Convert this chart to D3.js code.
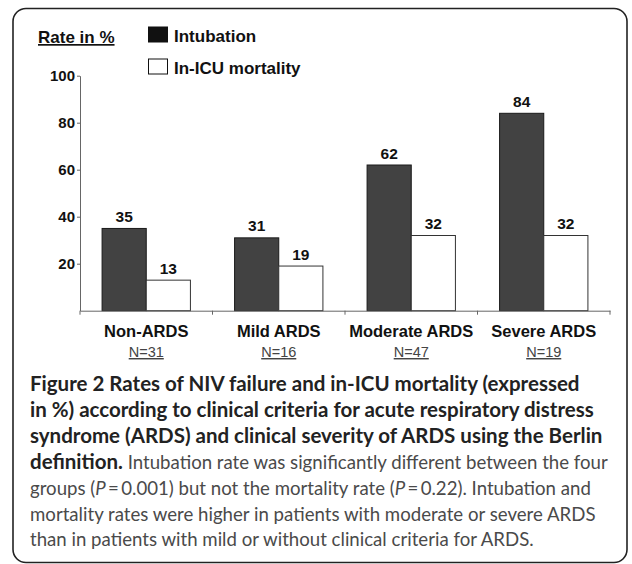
<!DOCTYPE html>
<html>
<head>
<meta charset="utf-8">
<script src="https://cdn.jsdelivr.net/npm/d3@7"></script>
<style>
  html, body { margin: 0; padding: 0; background: #fff; }
  svg { display: block; }
</style>
</head>
<body>
<svg id="chart" width="632" height="564"></svg>
<script>
// Groups, their sizes and the two rates (%) per group
const categories = ["Non-ARDS", "Mild ARDS", "Moderate ARDS", "Severe ARDS"];
const groupSizes = ["N=31", "N=16", "N=47", "N=19"];
const intubation = [35, 31, 62, 84];
const mortality = [13, 19, 32, 32];
const seriesNames = ["Intubation", "In-ICU mortality"];
const yTicks = [20, 40, 60, 80, 100];

// Caption lines: each is a list of [text, style] runs
const captionLines = [
  [["Figure 2 Rates of NIV failure and in-ICU mortality (expressed", "b"]],
  [["in %) according to clinical criteria for acute respiratory distress", "b"]],
  [["syndrome (ARDS) and clinical severity of ARDS using the Berlin", "b"]],
  [["definition.", "b"], [" Intubation rate was significantly different between the four", "r"]],
  [["groups (", "r"], ["P", "i"], ["\u2009=\u20090.001) but not the mortality rate (", "r"], ["P", "i"], ["\u2009=\u20090.22). Intubation and", "r"]],
  [["mortality rates were higher in patients with moderate or severe ARDS", "r"]],
  [["than in patients with mild or without clinical criteria for ARDS.", "r"]]
];

const svg = d3.select("#chart");
const chartFont = "'Liberation Sans', Arial, sans-serif";
const capFont = "Lato, 'Open Sans', sans-serif";

// Rounded frame
svg.append("rect")
  .attr("x", 13).attr("y", 8.5)
  .attr("width", 614).attr("height", 554)
  .attr("rx", 13)
  .attr("fill", "none")
  .attr("stroke", "#222")
  .attr("stroke-width", 1.6);

// Scales
const y = d3.scaleLinear().domain([0, 100]).range([310.7, 75.7]);
const x = d3.scaleBand().domain(categories).range([80, 610]).padding(0);
const xs = d3.scaleBand().domain(seriesNames).range([0, x.bandwidth()])
  .paddingInner(0).paddingOuter(0.5);

const rows = categories.map((c, i) => ({ cat: c, vals: [intubation[i], mortality[i]] }));
const fills = ["#424242", "#ffffff"];
const strokes = ["#1a1a1a", "#333"];

// Bars with value labels
const g = svg.append("g");
rows.forEach(r => {
  r.vals.forEach((v, j) => {
    g.append("rect")
      .attr("x", x(r.cat) + xs(seriesNames[j]))
      .attr("y", y(v))
      .attr("width", xs.bandwidth())
      .attr("height", y(0) - y(v))
      .attr("fill", fills[j])
      .attr("stroke", strokes[j])
      .attr("stroke-width", 1);
    g.append("text")
      .attr("x", x(r.cat) + xs(seriesNames[j]) + xs.bandwidth() / 2)
      .attr("y", y(v) - 6.5)
      .attr("text-anchor", "middle")
      .attr("font-family", chartFont)
      .attr("font-weight", "bold")
      .attr("font-size", 15.5)
      .attr("fill", "#111")
      .text(v);
  });
});

// Y axis
const yAxis = svg.append("g")
  .attr("transform", "translate(80,0)")
  .call(d3.axisLeft(y).tickValues(yTicks).tickSize(3).tickSizeOuter(0).tickPadding(2));
yAxis.select(".domain").attr("stroke", "#666");
yAxis.selectAll(".tick line").attr("stroke", "#666");
yAxis.selectAll(".tick text")
  .attr("font-family", chartFont)
  .attr("font-weight", "bold")
  .attr("font-size", 15)
  .attr("fill", "#111");

// X axis baseline with group separators
const xAxis = svg.append("g")
  .attr("transform", `translate(0,${y(0)})`)
  .call(d3.axisBottom(x).tickValues([]).tickSizeOuter(0));
xAxis.select(".domain").attr("stroke", "#666");
const bounds = categories.map(c => x(c)).concat([x.range()[1]]);
xAxis.selectAll("line.sep").data(bounds).enter().append("line")
  .attr("class", "sep")
  .attr("x1", d => d).attr("x2", d => d)
  .attr("y1", 0).attr("y2", 4)
  .attr("stroke", "#666");

// Category labels and group sizes
categories.forEach((c, i) => {
  const cx = x(c) + x.bandwidth() / 2;
  svg.append("text")
    .attr("x", cx).attr("y", 337)
    .attr("text-anchor", "middle")
    .attr("font-family", chartFont)
    .attr("font-weight", "bold")
    .attr("font-size", 16.5)
    .attr("fill", "#111")
    .text(c);
  svg.append("text")
    .attr("x", cx).attr("y", 357)
    .attr("text-anchor", "middle")
    .attr("font-family", chartFont)
    .attr("font-size", 14.5)
    .attr("fill", "#444")
    .attr("text-decoration", "underline")
    .text(groupSizes[i]);
});

// Y title
svg.append("text")
  .attr("x", 38).attr("y", 43)
  .attr("font-family", chartFont)
  .attr("font-weight", "bold")
  .attr("font-size", 17)
  .attr("fill", "#111")
  .attr("text-decoration", "underline")
  .text("Rate in %");

// Legend
const legendFills = ["#111", "#fff"];
seriesNames.forEach((s, j) => {
  const ly = 27 + j * 32;
  svg.append("rect")
    .attr("x", 148.5).attr("y", ly)
    .attr("width", 19).attr("height", 15)
    .attr("fill", legendFills[j])
    .attr("stroke", "#111").attr("stroke-width", 1);
  svg.append("text")
    .attr("x", 174).attr("y", ly + 15)
    .attr("font-family", chartFont)
    .attr("font-weight", "bold")
    .attr("font-size", 17)
    .attr("fill", "#111")
    .text(s);
});

// Caption
const cap = svg.append("g");
const styleAttrs = {
  b: { weight: 700, style: "normal", fill: "#222" },
  r: { weight: 400, style: "normal", fill: "#4a4a4a" },
  i: { weight: 400, style: "italic", fill: "#4a4a4a" }
};
const capTexts = captionLines.map((runs, li) => {
  const t = cap.append("text")
    .attr("x", 30).attr("y", 391 + li * 25.9)
    .attr("font-family", capFont)
    .attr("font-size", 20);
  runs.forEach(([txt, st]) => {
    const a = styleAttrs[st];
    t.append("tspan")
      .attr("class", "run-" + (st === "b" ? "b" : "r"))
      .attr("font-weight", a.weight)
      .attr("font-style", a.style)
      .attr("fill", a.fill)
      .attr("xml:space", "preserve")
      .text(txt);
  });
  return t;
});

// Size the bold and regular runs so the second line and the sixth line
// span the text column
const boldW = capTexts[1].node().getComputedTextLength();
const regW = capTexts[5].node().getComputedTextLength();
const boldSize = 20 * 564 / boldW;
const regSize = 20 * 566 / regW;
cap.selectAll("tspan.run-b").attr("font-size", boldSize);
cap.selectAll("tspan.run-r").attr("font-size", regSize);
</script>
</body>
</html>
